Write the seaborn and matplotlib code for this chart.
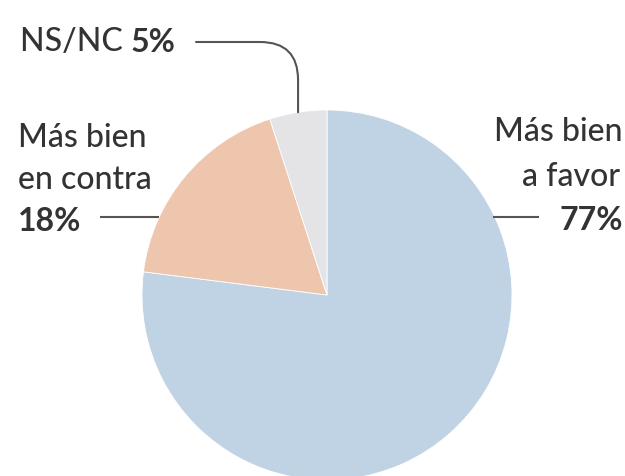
import matplotlib
matplotlib.use("Agg")
import matplotlib.pyplot as plt
import seaborn as sns
import numpy as np

# Data
categories = ["Más bien a favor", "Más bien en contra", "NS/NC"]
values = [77, 18, 5]
pct_labels = ["77%", "18%", "5%"]
colors = ["#c0d3e5", "#edc6ad", "#e4e4e7"]

sns.set_theme(style="white")
plt.rcParams["font.family"] = ["Lato", "DejaVu Sans"]

W, H = 625, 476
fig = plt.figure(figsize=(W / 100, H / 100), dpi=100)
ax = fig.add_axes([0, 0, 1, 1])

def py(y):  # pixel y (from top) -> data y
    return H - y

cx, cy, r = 327, py(295), 185
wedges, _ = ax.pie(values, colors=colors, startangle=90, counterclock=False,
                   center=(cx, cy), radius=r, frame=True,
                   wedgeprops=dict(edgecolor="white", linewidth=0.6))
ax.set_xlim(0, W)
ax.set_ylim(0, H)
ax.set_aspect("equal")
ax.axis("off")

tc = "#333333"
lc = "#555555"
fs = 23
fw = "medium"

# NS/NC label
t = ax.text(20, py(51), "NS/NC ", fontsize=fs, color=tc, va="baseline",
            ha="left", fontweight=fw)
ax.annotate(pct_labels[2], xy=(1, 0), xycoords=t, fontsize=fs, color=tc,
            fontweight="bold", va="bottom", ha="left")
w = wedges[2]
mid = np.deg2rad((w.theta1 + w.theta2) / 2)
ex, ey = cx + r * np.cos(mid), cy + r * np.sin(mid)
ax.annotate("", xy=(ex, ey), xytext=(196, py(42)),
            arrowprops=dict(arrowstyle="-", color=lc, lw=1.5,
                            connectionstyle="angle,angleA=0,angleB=90,rad=38",
                            shrinkA=0, shrinkB=0))

# Left label (en contra)
ax.text(18, py(147), "Más bien", fontsize=fs, color=tc, va="baseline",
        ha="left", fontweight=fw)
ax.text(18, py(189), "en contra", fontsize=fs, color=tc, va="baseline",
        ha="left", fontweight=fw)
ax.text(18, py(231), pct_labels[1], fontsize=fs, color=tc, va="baseline",
        ha="left", fontweight="bold")
ly = py(217)
lx_edge = cx - np.sqrt(r**2 - (ly - cy) ** 2)
ax.plot([100, lx_edge], [ly, ly], color=lc, lw=1.5, solid_capstyle="butt")

# Right label (a favor)
ax.text(623, py(141), "Más bien", fontsize=fs, color=tc, va="baseline",
        ha="right", fontweight=fw)
ax.text(620, py(186), "a favor", fontsize=fs, color=tc, va="baseline",
        ha="right", fontweight=fw)
ax.text(623, py(230), pct_labels[0], fontsize=fs, color=tc, va="baseline",
        ha="right", fontweight="bold")
rx_edge = cx + np.sqrt(r**2 - (ly - cy) ** 2)
ax.plot([rx_edge - 2, 539], [ly, ly], color=lc, lw=1.5, solid_capstyle="butt")

fig.savefig("out.png", dpi=100, facecolor="white")
